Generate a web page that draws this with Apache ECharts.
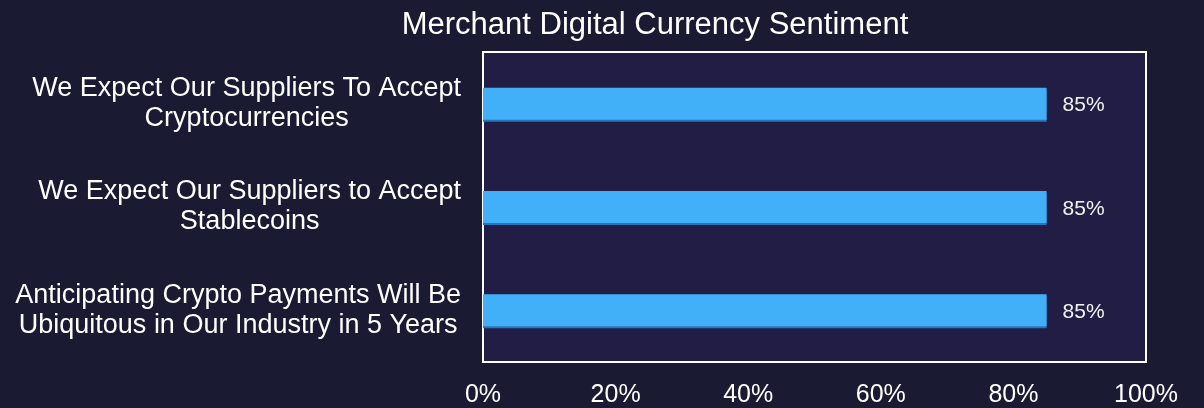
<!DOCTYPE html>
<html>
<head>
<meta charset="utf-8">
<title>Merchant Digital Currency Sentiment</title>
<script src="https://cdn.jsdelivr.net/npm/echarts@6/dist/echarts.min.js"></script>
<style>
  html, body { margin: 0; padding: 0; background: #1b1a33; }
  #chart { width: 1204px; height: 408px; }
</style>
</head>
<body>
<div id="chart"></div>
<script>
// 数据
const categories = [
  'We Expect Our Suppliers To Accept\nCryptocurrencies',
  'We Expect Our Suppliers to Accept\nStablecoins',
  'Anticipating Crypto Payments Will Be\nUbiquitous in Our Industry in 5 Years'
]
const values = [0.85, 0.85, 0.85]
const tickValues = [0, 0.2, 0.4, 0.6, 0.8, 1]

const font = '"Liberation Sans", Arial, sans-serif'
const chart = echarts.init(document.getElementById('chart'))

const option = {
  backgroundColor: '#1b1a33',
  animation: false,
  title: {
    text: 'Merchant Digital Currency Sentiment',
    left: 650,
    top: 5,
    textAlign: 'center',
    textStyle: {
      color: '#ffffff',
      fontSize: 31,
      fontWeight: 'normal',
      fontFamily: font
    }
  },
  grid: {
    left: 483,
    right: 58,
    top: 52,
    bottom: 45,
    show: true,
    backgroundColor: '#221d45',
    borderColor: '#ffffff',
    borderWidth: 2,
    containLabel: false
  },
  xAxis: {
    type: 'value',
    min: 0,
    max: 1,
    interval: 0.2,
    axisLine: { show: false },
    axisTick: { show: false },
    splitLine: { show: false },
    axisLabel: {
      color: '#ffffff',
      fontSize: 25,
      fontFamily: font,
      margin: 21,
      formatter: (v) => {
        const hit = tickValues.find(t => Math.abs(t - v) < 1e-9)
        return hit === undefined ? '' : Math.round(hit * 100) + '%'
      }
    }
  },
  yAxis: {
    type: 'category',
    inverse: true,
    data: categories,
    axisLine: { show: false },
    axisTick: { show: false },
    splitLine: { show: false },
    axisLabel: {
      margin: 22,
      formatter: (v) => v.split('\n').map(s => '{a|' + s + '}').join('\n'),
      rich: {
        a: {
          color: '#ffffff',
          fontSize: 27,
          lineHeight: 30,
          fontFamily: font,
          align: 'center'
        }
      }
    }
  },
  series: [{
    type: 'bar',
    data: values,
    barWidth: 32,
    itemStyle: {
      color: '#42aff9',
      shadowColor: '#2a74b8',
      shadowOffsetY: 2,
      shadowBlur: 0
    },
    label: {
      show: true,
      position: 'right',
      distance: 16,
      color: '#f2f2f2',
      fontSize: 21,
      fontFamily: font,
      offset: [0, 2],
      formatter: (p) => Math.round(p.value * 100) + '%'
    }
  }]
}

chart.setOption(option)
</script>
</body>
</html>
